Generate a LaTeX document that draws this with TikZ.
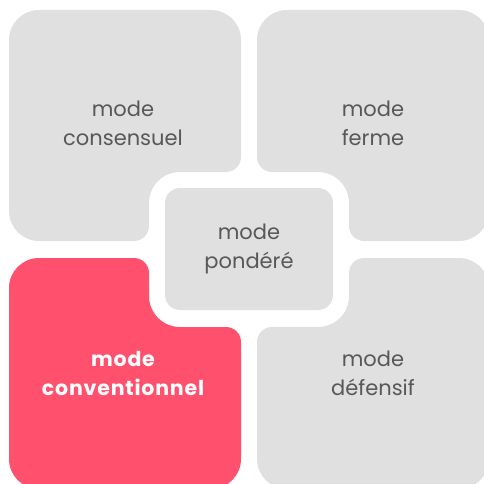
\documentclass[tikz,border=0pt]{standalone}
\usepackage{fontspec}
\setmainfont{Poppins}
\newfontfamily\widebold[LetterSpace=4]{Poppins Bold}
\definecolor{tilegray}{HTML}{E0E0E0}
\definecolor{tilered}{HTML}{FF506E}
\definecolor{txtgray}{HTML}{585858}
\begin{document}
\begin{tikzpicture}[x=1pt,y=1pt,
  lbl/.style={align=center,text=txtgray,font=\fontsize{21}{29}\selectfont},
  lblhot/.style={align=center,text=white,font=\widebold\fontsize{20.5}{29}\selectfont}]
\useasboundingbox (0,0) rectangle (484,483);
\clip (0,0) rectangle (484,483);
% upper left
\fill[tilegray] (39,473) -- (211,473) arc[start angle=90,end angle=0,radius=30]
  -- (241,326) arc[start angle=0,end angle=-90,radius=15]
  -- (180,311) arc[start angle=90,end angle=180,radius=31]
  -- (149,257) arc[start angle=0,end angle=-90,radius=15]
  -- (39,242) arc[start angle=270,end angle=180,radius=30]
  -- (9,443) arc[start angle=180,end angle=90,radius=30] -- cycle;
% upper right
\fill[tilegray] (287,473) -- (459,473) arc[start angle=90,end angle=0,radius=30]
  -- (489,272) arc[start angle=0,end angle=-90,radius=30]
  -- (364,242) arc[start angle=270,end angle=180,radius=15]
  -- (349,280) arc[start angle=0,end angle=90,radius=31]
  -- (272,311) arc[start angle=270,end angle=180,radius=15]
  -- (257,443) arc[start angle=180,end angle=90,radius=30] -- cycle;
% lower left
\fill[tilered] (39,225) -- (134,225) arc[start angle=90,end angle=0,radius=15]
  -- (149,187) arc[start angle=180,end angle=270,radius=31]
  -- (226,156) arc[start angle=90,end angle=0,radius=15]
  -- (241,24) arc[start angle=0,end angle=-90,radius=30]
  -- (39,-6) arc[start angle=270,end angle=180,radius=30]
  -- (9,195) arc[start angle=180,end angle=90,radius=30] -- cycle;
% lower right
\fill[tilegray] (364,225) -- (459,225) arc[start angle=90,end angle=0,radius=30]
  -- (489,24) arc[start angle=0,end angle=-90,radius=30]
  -- (287,-6) arc[start angle=270,end angle=180,radius=30]
  -- (257,141) arc[start angle=180,end angle=90,radius=15]
  -- (318,156) arc[start angle=270,end angle=360,radius=31]
  -- (349,210) arc[start angle=180,end angle=90,radius=15] -- cycle;
% middle
\fill[tilegray,rounded corners=15pt] (165,173) rectangle (333,295);

\node[lbl] (consensuel) at (123,360) {mode\\consensuel};
\node[lbl] (ferme) at (373,360) {mode\\ferme};
\node[lbl] (pondere) at (249,234) {mode\\pondéré};
\node[lblhot] (conventionnel) at (123,110) {mode\\conventionnel};
\node[lbl] (defensif) at (373,110) {mode\\défensif};
\end{tikzpicture}
\end{document}
